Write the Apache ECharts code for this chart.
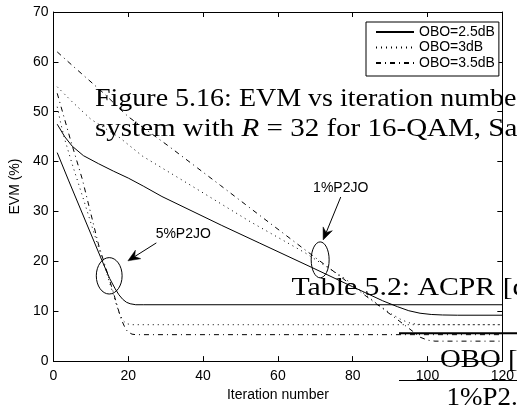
<!DOCTYPE html>
<html>
<head>
<meta charset="utf-8">
<script src="https://cdn.jsdelivr.net/npm/echarts@6/dist/echarts.min.js"></script>
<style>
  html, body { margin: 0; padding: 0; background: #fff; }
  #chart { width: 517px; height: 407px; }
</style>
</head>
<body>
<div id="chart"></div>
<script>
// EVM (%) against iteration number, one pair of curves per back-off level:
// the fast curves use a 5% P2JO step, the slow ones a 1% step.
const iter25Fast = [1, 4, 7, 10, 13, 15, 16.5, 17.5, 18.5, 19.5, 20.5, 22, 24, 120];
const evm25Fast  = [41.8, 36.3, 30.9, 25.5, 20.1, 16.6, 14.5, 13.3, 12.4, 11.8, 11.5, 11.3, 11.3, 11.3];

const iter3Fast = [1, 2, 3, 5, 8, 11, 14, 16, 17.5, 18.5, 19.5, 21, 120];
const evm3Fast  = [51, 47.5, 44.5, 39.5, 32.5, 25.3, 18.2, 13.3, 9.8, 8.2, 7.5, 7.3, 7.3];

const iter35Fast = [1, 4.5, 7.7, 12, 16, 18, 19, 19.8, 21, 22, 120];
const evm35Fast  = [53.7, 44.5, 36.5, 23.5, 13.8, 8.6, 6.9, 5.9, 5.4, 5.3, 5.3];

const iter25Slow = [1, 3, 5, 8, 12, 16, 20, 24, 29, 45, 55, 69, 80, 88, 92, 95, 98, 101, 104, 108, 120];
const evm25Slow  = [47.5, 45, 43.1, 41.2, 39.6, 38.1, 36.7, 35.1, 33, 27.2, 23.7, 18.8, 14.9, 12.1, 10.9, 10.1, 9.6, 9.35, 9.25, 9.2, 9.2];

const iter3Slow = [1, 5, 10, 17.7, 23.8, 36.8, 52.5, 67.3, 78, 86, 90, 93, 95, 97, 99, 120];
const evm3Slow  = [55, 52, 48.5, 44.8, 41.1, 35.2, 28, 21.7, 16.5, 11.8, 9.6, 8.3, 7.7, 7.4, 7.3, 7.3];

const iter35Slow = [1, 5, 13, 20, 30.8, 44.7, 55, 66.4, 74, 83.8, 92, 96, 98, 100, 102, 120];
const evm35Slow  = [62, 59.3, 54, 49, 43.1, 35.2, 29.3, 22.8, 18.5, 12.9, 8.3, 6.0, 4.8, 4.2, 4.0, 4.0];

const seriesNames = ['OBO=2.5dB', 'OBO=3dB', 'OBO=3.5dB'];

const xTicks = { min: 0, max: 120, step: 20 };
const yTicks = { min: 0, max: 70, step: 10 };

// Callouts: label position, arrow tail and tip, ring centre and half-size (axis units)
const calloutText   = ['5%P2JO', '1%P2JO'];
const calloutLabel  = [[34.7, 25.4], [76.8, 34.6]];
const calloutTail   = [[27.5, 23.7], [76.8, 32.9]];
const calloutTip    = [[19.9, 20.1], [72.1, 24.3]];
const ringCentre    = [[14.9, 17.1], [71.3, 20.3]];
const ringHalf      = [[3.45, 3.65], [2.4, 3.6]];

const pairs = (xs, ys) => xs.map((x, i) => [x, ys[i]]);

const SANS = '"Liberation Sans", Arial, Helvetica, sans-serif';
const SERIF = '"Liberation Serif", "Times New Roman", serif';
const DOTTED = [1, 4];
const DASHDOT = [5, 4, 1, 4];

function curve(name, xs, ys, dash) {
  return {
    name, type: 'line', data: pairs(xs, ys),
    symbol: 'none', showSymbol: false, smooth: false,
    lineStyle: { color: '#000', width: 1, type: dash },
    itemStyle: { color: '#000' },
    emphasis: { disabled: true },
    z: 3
  };
}

const boxAxis = {
  axisLine: { show: true, onZero: false, lineStyle: { color: '#000', width: 1 } },
  axisTick: { show: true, inside: true, length: 5, lineStyle: { color: '#000', width: 1 } },
  splitLine: { show: false }
};

const chart = echarts.init(document.getElementById('chart'), null, { renderer: 'canvas' });

chart.setOption({
  animation: false,
  backgroundColor: '#fff',
  grid: { left: 49, right: 8.5, top: 12, bottom: 40.5, containLabel: false },
  legend: {
    data: seriesNames,
    orient: 'vertical',
    left: 366, top: 22,
    padding: [3, 4, 6, 9],
    itemGap: 1.5,
    itemWidth: 38, itemHeight: 14,
    backgroundColor: '#fff',
    borderColor: '#000', borderWidth: 1, borderRadius: 0,
    selectedMode: false,
    itemStyle: { opacity: 0, borderWidth: 0 },
    textStyle: { fontFamily: SANS, fontSize: 14, color: '#000', lineHeight: 14 },
    z: 10
  },
  xAxis: [
    Object.assign({
      type: 'value', position: 'bottom',
      min: xTicks.min, max: xTicks.max, interval: xTicks.step,
      name: 'Iteration number', nameLocation: 'middle', nameGap: 22,
      nameTextStyle: { fontFamily: SANS, fontSize: 14, color: '#000' },
      axisLabel: { fontFamily: SANS, fontSize: 14, color: '#000', margin: 8 }
    }, boxAxis),
    Object.assign({
      type: 'value', position: 'top',
      min: xTicks.min, max: xTicks.max, interval: xTicks.step,
      axisLabel: { show: false }
    }, boxAxis)
  ],
  yAxis: [
    Object.assign({
      type: 'value', position: 'left',
      min: yTicks.min, max: yTicks.max, interval: yTicks.step,
      name: 'EVM (%)', nameLocation: 'middle', nameGap: 30, nameRotate: 90,
      nameTextStyle: { fontFamily: SANS, fontSize: 14, color: '#000' },
      axisLabel: { fontFamily: SANS, fontSize: 14, color: '#000', margin: 5 }
    }, boxAxis),
    Object.assign({
      type: 'value', position: 'right',
      min: yTicks.min, max: yTicks.max, interval: yTicks.step,
      axisLabel: { show: false }
    }, boxAxis)
  ],
  series: [
    curve(seriesNames[0], iter25Slow, evm25Slow, 'solid'),
    curve(seriesNames[1], iter3Slow, evm3Slow, DOTTED),
    curve(seriesNames[2], iter35Slow, evm35Slow, DASHDOT),
    curve(seriesNames[0], iter25Fast, evm25Fast, 'solid'),
    curve(seriesNames[1], iter3Fast, evm3Fast, DOTTED),
    curve(seriesNames[2], iter35Fast, evm35Fast, DASHDOT)
  ]
});

// Callout rings, arrows and labels, placed through the grid's own scales
const toPx = p => chart.convertToPixel({ gridIndex: 0 }, p);
const graphics = [];

calloutText.forEach((txt, i) => {
  const c = toPx(ringCentre[i]);
  const ex = toPx([ringCentre[i][0] + ringHalf[i][0], ringCentre[i][1] + ringHalf[i][1]]);
  graphics.push({
    type: 'ellipse', z: 20, silent: true,
    shape: { cx: c[0], cy: c[1], rx: Math.abs(ex[0] - c[0]), ry: Math.abs(ex[1] - c[1]) },
    style: { fill: 'none', stroke: '#000', lineWidth: 1 }
  });

  const t = toPx(calloutTail[i]);
  const h = toPx(calloutTip[i]);
  const dx = h[0] - t[0], dy = h[1] - t[1];
  const len = Math.hypot(dx, dy);
  const ux = dx / len, uy = dy / len, nx = -uy, ny = ux;
  const headLen = 12, headHalf = 5, notch = 4;
  const back = [h[0] - ux * headLen, h[1] - uy * headLen];
  const inner = [h[0] - ux * (headLen - notch), h[1] - uy * (headLen - notch)];
  graphics.push({
    type: 'line', z: 20, silent: true,
    shape: { x1: t[0], y1: t[1], x2: inner[0], y2: inner[1] },
    style: { stroke: '#000', lineWidth: 1 }
  });
  graphics.push({
    type: 'polygon', z: 20, silent: true,
    shape: { points: [h, [back[0] + nx * headHalf, back[1] + ny * headHalf], inner, [back[0] - nx * headHalf, back[1] - ny * headHalf]] },
    style: { fill: '#000', stroke: '#000', lineWidth: 0.5 }
  });

  const l = toPx(calloutLabel[i]);
  graphics.push({
    type: 'text', z: 20, silent: true, x: l[0], y: l[1],
    style: { text: txt, font: '14px ' + SANS, fill: '#000', align: 'center', verticalAlign: 'middle' }
  });
});

// Document text and table rules lying over the figure
const pageText = [
  { text: 'Figure 5.16: EVM vs iteration numbe', x: 95, y: 99, sx: 1.12 },
  { text: 'system with {it|R} = 32 for 16-QAM, Sa', x: 95, y: 129, sx: 1.16 },
  { text: 'Table 5.2: ACPR [d', x: 291.5, y: 288.5, sx: 1.19 },
  { text: 'OBO [d', x: 440, y: 360, sx: 1.15 },
  { text: '1%P2.', x: 446.5, y: 398, sx: 1.08 }
];
pageText.forEach(p => {
  graphics.push({
    type: 'text', z: 30, silent: true, x: p.x, y: p.y, scaleX: p.sx, scaleY: 1,
    style: {
      text: p.text, x: 0, y: 0, fill: '#000',
      font: '25px ' + SERIF, align: 'left', verticalAlign: 'middle',
      rich: { it: { fontStyle: 'italic', fontSize: 25, fontFamily: SERIF } }
    }
  });
});
graphics.push({
  type: 'line', z: 30, silent: true,
  shape: { x1: 399, y1: 333.3, x2: 517, y2: 333.3 },
  style: { stroke: '#000', lineWidth: 2 }
});
graphics.push({
  type: 'line', z: 30, silent: true,
  shape: { x1: 399, y1: 380.5, x2: 517, y2: 380.5 },
  style: { stroke: '#000', lineWidth: 1 }
});

chart.setOption({ graphic: graphics });
</script>
</body>
</html>
